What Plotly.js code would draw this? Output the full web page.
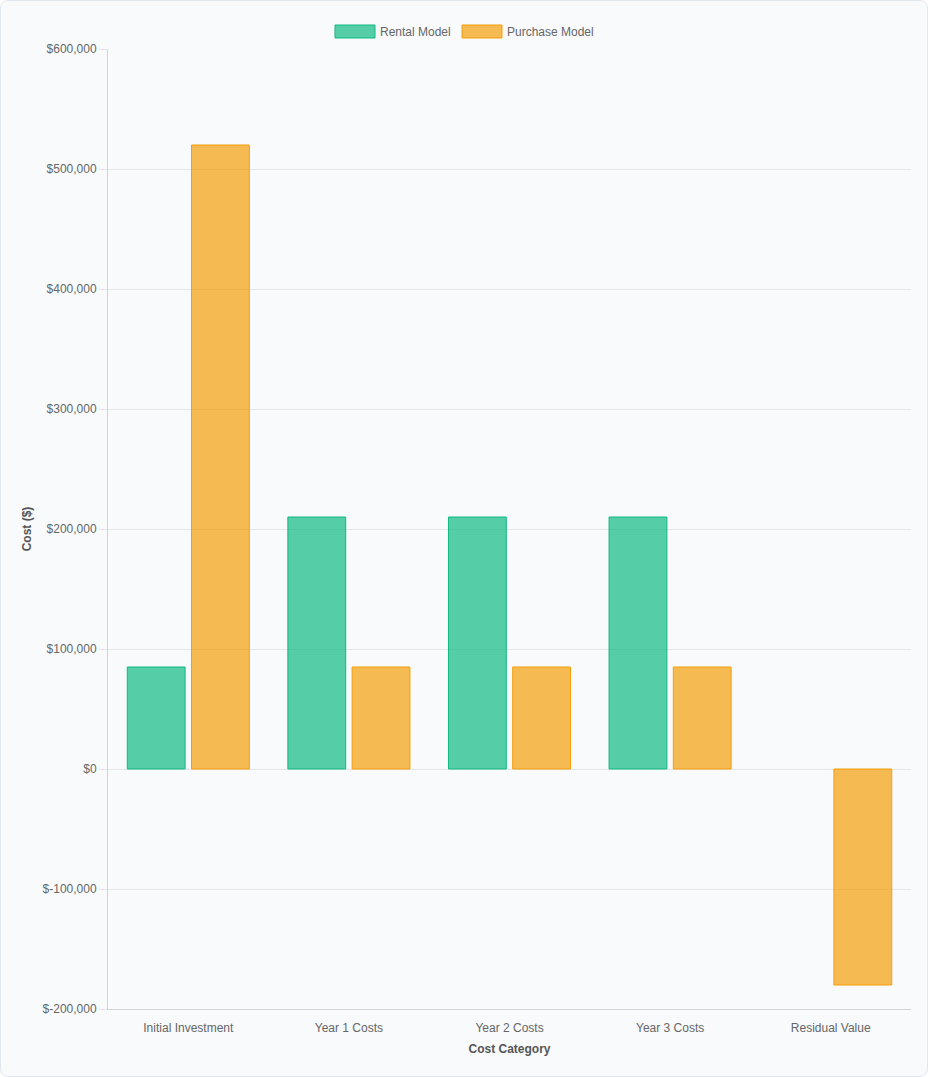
<!DOCTYPE html>
<html>
<head>
<meta charset="utf-8">
<script src="https://cdn.plot.ly/plotly-3.0.1.min.js"></script>
<style>
  html, body { margin: 0; padding: 0; background: #ffffff; }
  #card {
    position: absolute; left: 0; top: 0;
    width: 926px; height: 1075px;
    border: 1px solid #e2e8f0; border-radius: 8px;
    background: #f8fafc; overflow: hidden;
  }
  #chart { width: 926px; height: 1075px; }
</style>
</head>
<body>
<div id="card"><div id="chart"></div></div>
<script>
// Categories and series values
const categories = ['Initial Investment', 'Year 1 Costs', 'Year 2 Costs', 'Year 3 Costs', 'Residual Value'];
const rentalName = 'Rental Model';
const purchaseName = 'Purchase Model';
const rentalValues = [85000, 210000, 210000, 210000, null];
const purchaseValues = [520000, 85000, 85000, 85000, -180000];

// Y axis ticks
const yTickVals = [-200000, -100000, 0, 100000, 200000, 300000, 400000, 500000, 600000];
const yTickText = ['$-200,000', '$-100,000', '$0', '$100,000', '$200,000', '$300,000', '$400,000', '$500,000', '$600,000'];

const green = 'rgb(16,185,129)';
const greenFill = 'rgba(16,185,129,0.7)';
const orange = 'rgb(245,158,11)';
const orangeFill = 'rgba(245,158,11,0.7)';
const font = 'Liberation Sans, Helvetica, Arial, sans-serif';

const traces = [
  {
    type: 'bar', name: rentalName, x: categories, y: rentalValues,
    marker: { color: greenFill, line: { color: green, width: 1 } },
    hoverinfo: 'none', showlegend: false,
  },
  {
    type: 'bar', name: purchaseName, x: categories, y: purchaseValues,
    marker: { color: orangeFill, line: { color: orange, width: 1 } },
    hoverinfo: 'none', showlegend: false,
  },
];

const plotW = 803;  // plot area width in px (926 - 107 - 16)

const layout = {
  width: 926,
  height: 1075,
  margin: { l: 107, r: 16, t: 48, b: 67 },
  paper_bgcolor: 'rgba(0,0,0,0)',
  plot_bgcolor: 'rgba(0,0,0,0)',
  font: { family: font, size: 12, color: '#666666' },
  barmode: 'group',
  bargap: 0.2,
  bargroupgap: 0.1,
  xaxis: {
    type: 'category',
    showgrid: false,
    showline: true, linecolor: '#d4d4d8', linewidth: 1,
    ticks: '', ticklen: 0,
    ticklabelstandoff: 8,
    tickfont: { family: font, size: 12, color: '#666666' },
    title: { text: 'Cost Category', font: { family: font, size: 12, color: '#555555', weight: 'bold' }, standoff: 10 },
    zeroline: false,
    fixedrange: true,
  },
  yaxis: {
    range: [-200000, 600000],
    tickvals: yTickVals,
    ticktext: yTickText,
    showgrid: true, gridcolor: '#e5e7eb', gridwidth: 1,
    showline: true, linecolor: '#d4d4d8', linewidth: 1,
    ticks: 'outside', ticklen: 8, tickcolor: '#e5e7eb',
    tickfont: { family: font, size: 12, color: '#666666' },
    title: { text: 'Cost ($)', font: { family: font, size: 12, color: '#555555', weight: 'bold' }, standoff: 8 },
    zeroline: false,
    fixedrange: true,
  },
  // Legend drawn as wide swatches + labels (Chart.js style)
  shapes: [
    { type: 'rect', xref: 'paper', yref: 'paper', xsizemode: 'pixel', ysizemode: 'pixel',
      xanchor: 0, yanchor: 1, x0: 334 - 107, x1: 374 - 107, y0: 11, y1: 24,
      fillcolor: greenFill, line: { color: green, width: 1 } },
    { type: 'rect', xref: 'paper', yref: 'paper', xsizemode: 'pixel', ysizemode: 'pixel',
      xanchor: 0, yanchor: 1, x0: 461 - 107, x1: 501 - 107, y0: 11, y1: 24,
      fillcolor: orangeFill, line: { color: orange, width: 1 } },
  ],
  annotations: [
    { xref: 'paper', yref: 'paper', x: (377 - 107) / plotW, y: 1, yshift: 17, xanchor: 'left', yanchor: 'middle',
      text: rentalName, showarrow: false, font: { family: font, size: 12, color: '#666666' } },
    { xref: 'paper', yref: 'paper', x: (504 - 107) / plotW, y: 1, yshift: 17, xanchor: 'left', yanchor: 'middle',
      text: purchaseName, showarrow: false, font: { family: font, size: 12, color: '#666666' } },
  ],
};

Plotly.newPlot('chart', traces, layout, { displayModeBar: false, staticPlot: true });
</script>
</body>
</html>
